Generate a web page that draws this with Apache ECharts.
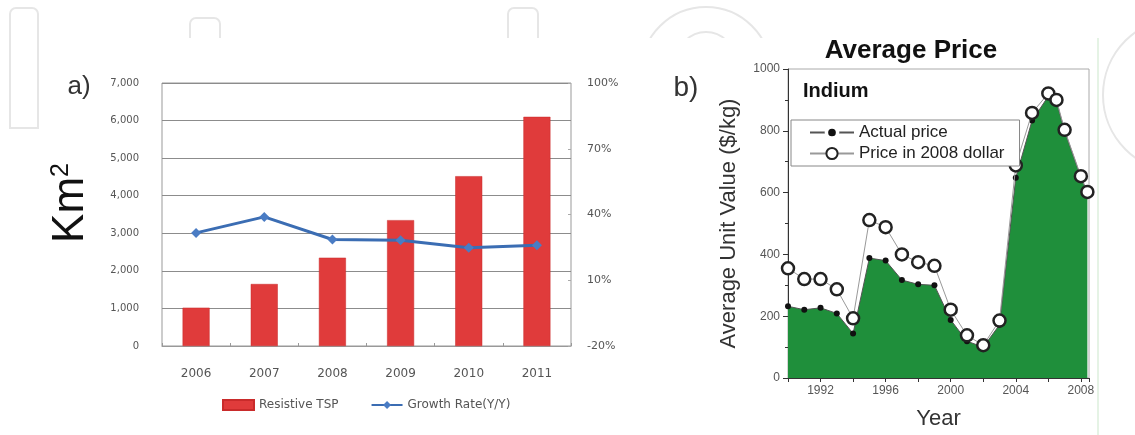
<!DOCTYPE html>
<html>
<head>
<meta charset="utf-8">
<script src="https://cdn.jsdelivr.net/npm/echarts@6/dist/echarts.min.js"></script>
<style>
  html, body { margin: 0; padding: 0; background: #fff; }
  #chart { width: 1135px; height: 435px; }
</style>
</head>
<body>
<div id="chart"></div>
<script>
// Panel a: resistive touch-screen panel area and year-on-year growth
const categories = ['2006', '2007', '2008', '2009', '2010', '2011'];
const tspArea = [1020, 1650, 2350, 3350, 4520, 6100];      // Km²
const growthRate = [31.6, 38.9, 28.6, 28.3, 24.8, 26.0];    // %

// Panel b: indium average unit value
const priceYears = [1990, 1991, 1992, 1993, 1994, 1995, 1996, 1997, 1998, 1999,
                    2000, 2001, 2002, 2003, 2004, 2005, 2006, 2006.5, 2007, 2008, 2008.4];
const actualPrice = [232, 221, 227, 209, 144, 388, 380, 317, 303, 300,
                     188, 119, 100, 172, 648, 833, 912, 895, 800, 650, 600];
const realPrice = [355, 320, 320, 287, 193, 511, 488, 400, 375, 363,
                   221, 138, 106, 186, 688, 858, 921, 900, 803, 653, 602];

const withCommas = v => String(v).replace(/\B(?=(\d{3})+(?!\d))/g, ',');
const fontA = 'DejaVu Sans';
const fontB = 'Liberation Sans';

const chart = echarts.init(document.getElementById('chart'), null, { renderer: 'canvas' });

chart.setOption({
  animation: false,
  backgroundColor: '#fff',
  graphic: [
    // faint background logo strokes
    { type: 'rect', z: -20, shape: { x: 10, y: 8, width: 28, height: 120, r: [6, 6, 0, 0] },
      style: { fill: 'none', stroke: '#e6e6e6', lineWidth: 2 } },
    { type: 'rect', z: -20, shape: { x: 190, y: 18, width: 30, height: 110, r: [6, 6, 0, 0] },
      style: { fill: 'none', stroke: '#e6e6e6', lineWidth: 2 } },
    { type: 'rect', z: -20, shape: { x: 508, y: 8, width: 30, height: 120, r: [6, 6, 0, 0] },
      style: { fill: 'none', stroke: '#e6e6e6', lineWidth: 2 } },
    { type: 'circle', z: -20, shape: { cx: 706, cy: 72, r: 65 },
      style: { fill: 'none', stroke: '#e6e6e6', lineWidth: 2 } },
    { type: 'circle', z: -20, shape: { cx: 706, cy: 61, r: 29 },
      style: { fill: 'none', stroke: '#e6e6e6', lineWidth: 2 } },
    { type: 'circle', z: -20, shape: { cx: 1180, cy: 95, r: 77 },
      style: { fill: 'none', stroke: '#e6e6e6', lineWidth: 2 } },
    // white figure panel
    { type: 'rect', z: -10, shape: { x: 55, y: 38, width: 1043, height: 397 },
      style: { fill: '#fff' } },
    { type: 'line', z: -9, shape: { x1: 1098, y1: 38, x2: 1098, y2: 435 },
      style: { stroke: '#dcefdc', lineWidth: 1.5 } },
    // panel letters and labels
    { type: 'text', z: 50, x: 79, y: 87,
      style: { text: 'a)', font: '26px "Liberation Sans"', fill: '#333',
               align: 'center', verticalAlign: 'middle' } },
    { type: 'text', z: 50, x: 71, y: 203, rotation: Math.PI / 2,
      style: { text: '{k|Km}{s|2}', align: 'center', verticalAlign: 'middle',
               rich: {
                 k: { font: '44px "Liberation Sans"', fill: '#111', verticalAlign: 'bottom' },
                 s: { font: '25px "Liberation Sans"', fill: '#111', verticalAlign: 'top' }
               } } },
    { type: 'text', z: 50, x: 686, y: 88,
      style: { text: 'b)', font: '28px "Liberation Sans"', fill: '#333',
               align: 'center', verticalAlign: 'middle' } },
    { type: 'text', z: 50, x: 911, y: 51,
      style: { text: 'Average Price', font: 'bold 26px "Liberation Sans"', fill: '#111',
               align: 'center', verticalAlign: 'middle' } },
    { type: 'text', z: 50, x: 803, y: 91,
      style: { text: 'Indium', font: 'bold 20px "Liberation Sans"', fill: '#111',
               align: 'left', verticalAlign: 'middle' } }
  ],
  legend: [
    {
      left: 217, top: 394,
      itemWidth: 31, itemHeight: 10, itemGap: 32,
      textStyle: { fontFamily: fontA, fontSize: 12, color: '#555' },
      data: [{ name: 'Resistive TSP', icon: 'rect' }, 'Growth Rate(Y/Y)']
    },
    {
      left: 791, top: 120,
      orient: 'vertical',
      backgroundColor: '#fff',
      borderColor: '#888', borderWidth: 1,
      padding: [4, 15, 4, 18],
      itemWidth: 44, itemHeight: 14, itemGap: 4,
      textStyle: { fontFamily: fontB, fontSize: 17, color: '#222' },
      data: [
        { name: 'Actual price', itemStyle: { borderColor: '#fff', borderWidth: 3.5 } },
        'Price in 2008 dollar'
      ]
    }
  ],
  grid: [
    { left: 162, top: 83, right: 564, bottom: 89, show: true,
      borderColor: '#999', borderWidth: 1, backgroundColor: 'transparent' },
    { left: 788, top: 69, right: 46, bottom: 51, show: true,
      borderColor: '#aaa', borderWidth: 1, backgroundColor: 'transparent' }
  ],
  xAxis: [
    {
      gridIndex: 0, type: 'category', data: categories,
      axisLine: { lineStyle: { color: '#999' } },
      axisTick: { show: true, inside: true, length: 3, lineStyle: { color: '#999' } },
      axisLabel: { fontFamily: fontA, fontSize: 12, color: '#555', margin: 22 }
    },
    {
      gridIndex: 1, type: 'value', min: 1990, max: 2008.5, interval: 2,
      name: 'Year', nameLocation: 'middle', nameGap: 30,
      nameTextStyle: { fontFamily: fontB, fontSize: 22, color: '#333' },
      axisLine: { show: true, lineStyle: { color: '#333' } },
      axisTick: { show: true, length: 4, lineStyle: { color: '#333' } },
      splitLine: { show: false },
      axisLabel: {
        fontFamily: fontB, fontSize: 12, color: '#555', margin: 7,
        formatter: v => (v % 4 === 0 ? String(v) : '')
      }
    }
  ],
  yAxis: [
    {
      gridIndex: 0, type: 'value', min: 0, max: 7000, interval: 1000, position: 'left',
      axisLine: { show: false }, axisTick: { show: false },
      splitLine: { lineStyle: { color: '#8c8c8c', width: 1 } },
      axisLabel: { fontFamily: fontA, fontSize: 10, color: '#555', margin: 23, formatter: withCommas }
    },
    {
      gridIndex: 0, type: 'value', min: -20, max: 100, interval: 30, position: 'right',
      axisLine: { show: false },
      axisTick: { show: true, inside: true, length: 3, lineStyle: { color: '#aaa' } },
      splitLine: { show: false },
      axisLabel: { fontFamily: fontA, fontSize: 11, color: '#555', margin: 16, formatter: '{value}%' }
    },
    {
      gridIndex: 1, type: 'value', min: 0, max: 1000, interval: 200,
      name: 'Average Unit Value ($/kg)', nameLocation: 'middle', nameGap: 48,
      nameTextStyle: { fontFamily: fontB, fontSize: 22, color: '#333' },
      axisLine: { show: true, lineStyle: { color: '#333' } },
      axisTick: { show: true, length: 5, lineStyle: { color: '#333' } },
      minorTick: { show: true, splitNumber: 2, length: 3, lineStyle: { color: '#333' } },
      splitLine: { show: false },
      axisLabel: { fontFamily: fontB, fontSize: 12, color: '#555', margin: 8, formatter: v => String(v) }
    }
  ],
  series: [
    {
      name: 'Resistive TSP', type: 'bar', xAxisIndex: 0, yAxisIndex: 0,
      data: tspArea, barWidth: 27,
      itemStyle: { color: '#e03b3b', borderColor: '#c92b2b', borderWidth: 0.5 }
    },
    {
      name: 'Growth Rate(Y/Y)', type: 'line', xAxisIndex: 0, yAxisIndex: 1,
      data: growthRate, symbol: 'diamond', symbolSize: 10,
      lineStyle: { color: '#3b6db3', width: 3 },
      itemStyle: { color: '#4a7cc4' }
    },
    {
      name: 'Actual price', type: 'line', xAxisIndex: 1, yAxisIndex: 2,
      data: priceYears.map((y, i) => [y, actualPrice[i]]),
      symbol: 'circle', symbolSize: 6,
      lineStyle: { color: '#555', width: 1 },
      itemStyle: { color: '#111' },
      areaStyle: { color: '#1f8f3b', opacity: 1 },
      z: 2
    },
    {
      name: 'Price in 2008 dollar', type: 'line', xAxisIndex: 1, yAxisIndex: 2,
      data: priceYears.map((y, i) => [y, realPrice[i]]),
      symbol: 'circle', symbolSize: 12,
      lineStyle: { color: '#999', width: 1 },
      itemStyle: { color: '#fff', borderColor: '#222', borderWidth: 2.5 },
      z: 3
    }
  ]
});
</script>
</body>
</html>
